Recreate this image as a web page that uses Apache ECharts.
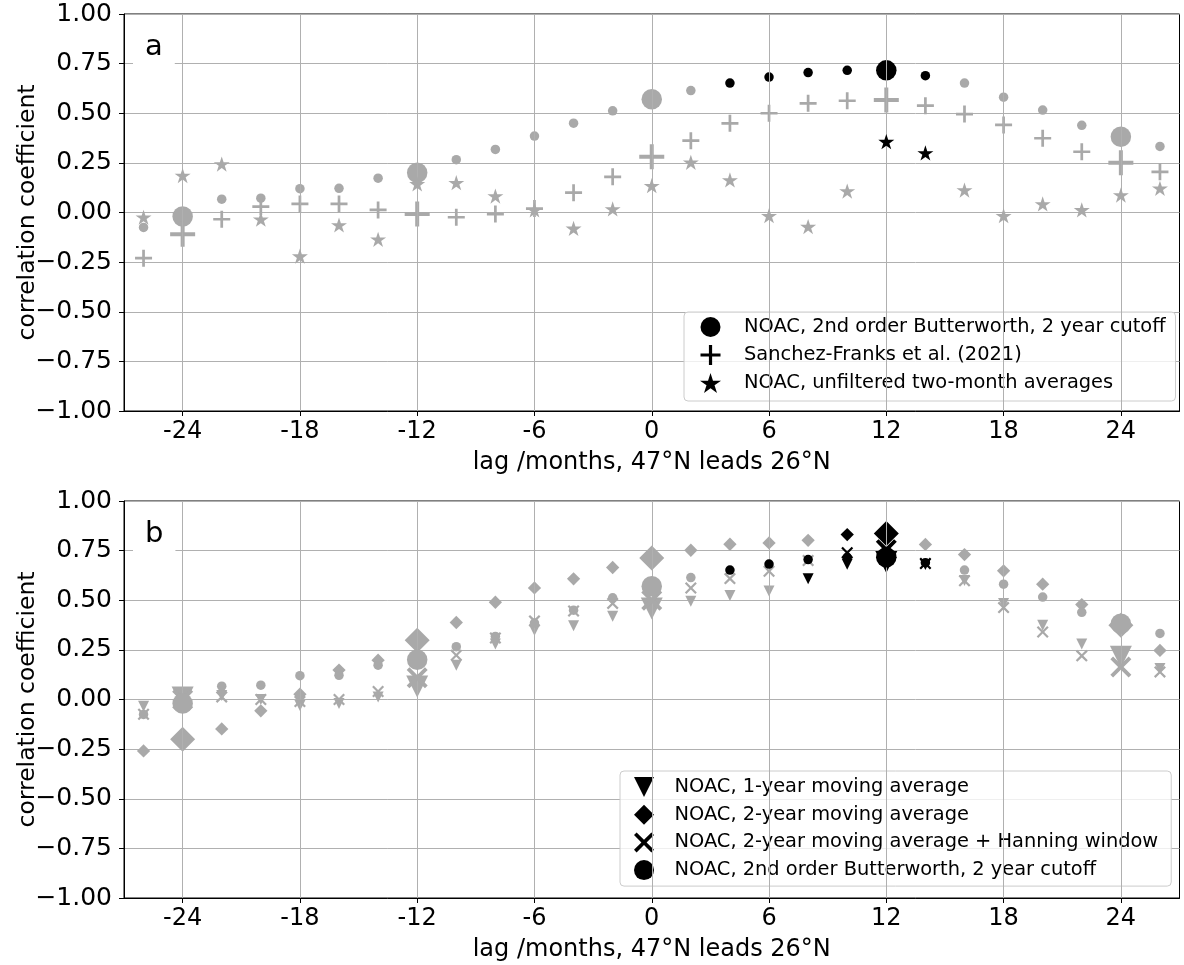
<!DOCTYPE html>
<html><head><meta charset="utf-8">
<script src="https://cdn.jsdelivr.net/npm/echarts@6/dist/echarts.min.js"></script>
<style>html,body{margin:0;padding:0;background:#fff}#chart{width:1184px;height:965px}</style>
</head><body><div id="chart"></div>
<script>
// ---------------- data ----------------
const lags = [-26,-24,-22,-20,-18,-16,-14,-12,-10,-8,-6,-4,-2,0,2,4,6,8,10,12,14,16,18,20,22,24,26];
const xTickValues = [-24,-18,-12,-6,0,6,12,18,24];
const bigLags = [-24,-12,0,12,24];

// panel a
const butterworth = [-0.075,-0.02,0.067,0.072,0.12,0.122,0.173,0.20,0.266,0.318,0.385,0.45,0.512,0.570,0.614,0.652,0.682,0.705,0.716,0.716,0.689,0.652,0.581,0.516,0.439,0.382,0.333];
const sanchezFranks = [-0.23,-0.11,-0.034,0.03,0.043,0.043,0.013,-0.008,-0.024,-0.008,0.02,0.10,0.18,0.281,0.362,0.449,0.50,0.55,0.563,0.567,0.538,0.496,0.441,0.374,0.306,0.251,0.205];
const unfilteredTwoMonth = [-0.024,0.186,0.244,-0.034,-0.22,-0.063,-0.135,0.144,0.15,0.083,0.013,-0.08,0.018,0.135,0.253,0.164,-0.016,-0.071,0.108,0.357,0.30,0.113,-0.016,0.043,0.013,0.088,0.122];

// panel b
const movingAvg1yr = [-0.034,0.01,0.02,0.0,-0.03,-0.02,0.013,0.065,0.173,0.279,0.349,0.371,0.42,0.458,0.495,0.524,0.547,0.608,0.681,0.693,0.68,0.60,0.484,0.374,0.279,0.215,0.156];
const movingAvg2yr = [-0.259,-0.20,-0.148,-0.057,0.027,0.148,0.198,0.299,0.388,0.49,0.562,0.608,0.665,0.713,0.752,0.782,0.789,0.802,0.831,0.836,0.781,0.73,0.648,0.581,0.478,0.374,0.247];
const movingAvg2yrHanning = [-0.074,0.0,0.013,0.0,-0.01,0.0,0.04,0.11,0.223,0.31,0.396,0.446,0.484,0.50,0.562,0.609,0.646,0.70,0.739,0.755,0.685,0.598,0.463,0.34,0.22,0.164,0.139];

// lags drawn in black (highlighted)
const blackButterworth = [4,6,8,10,12,14];
const blackSanchez = [];
const blackUnfiltered = [12,14];
const blackMA1 = [8,10,12,14];
const blackMA2 = [10,12];
const blackMA2H = [10,12,14];

// ---------------- styling ----------------
const FONT = 'DejaVu Sans';
const GRAY = '#a9a9a9';
const P_STAR = 'path://M100,0 L122.45,69.1 L195.11,69.1 L136.33,111.8 L158.78,180.9 L100,138.2 L41.22,180.9 L63.67,111.8 L4.89,69.1 L77.55,69.1 Z';
const P_PLUS = 'path://M42,0 H58 V42 H100 V58 H58 V100 H42 V58 H0 V42 H42 Z';
const P_X = 'path://M13,0 L50,37 L87,0 L100,13 L63,50 L100,87 L87,100 L50,63 L13,100 L0,87 L37,50 L0,13 Z';
const P_TRI = 'path://M0,0 L100,0 L50,100 Z';
const P_DIA = 'path://M50,0 L100,50 L50,100 L0,50 Z';

const NAME_BW = 'NOAC, 2nd order Butterworth, 2 year cutoff';
const NAME_SF = 'Sanchez-Franks et al. (2021)';
const NAME_UF = 'NOAC, unfiltered two-month averages';
const NAME_MA1 = 'NOAC, 1-year moving average';
const NAME_MA2 = 'NOAC, 2-year moving average';
const NAME_MA2H = 'NOAC, 2-year moving average + Hanning window';

function mkSeries(name, vals, g, symbol, small, big, blackSet, z) {
  return {
    type: 'scatter', name: name, xAxisIndex: g, yAxisIndex: g, z: z,
    data: lags.map((l, i) => [l, vals[i]]),
    symbol: symbol, symbolKeepAspect: true,
    symbolSize: function (v) { return bigLags.indexOf(v[0]) >= 0 ? big : small; },
    itemStyle: { opacity: 1, color: function (p) { return blackSet.indexOf(p.value[0]) >= 0 ? '#000' : GRAY; } },
    emphasis: { disabled: true }, silent: true, animation: false
  };
}
function gridLines(g) {
  return {
    type: 'scatter', xAxisIndex: g, yAxisIndex: g, data: [], z: 1, silent: true, animation: false,
    markLine: {
      silent: true, symbol: ['none', 'none'], label: { show: false }, animation: false,
      lineStyle: { color: '#b0b0b0', width: 1, type: 'solid' }, emphasis: { disabled: true },
      data: xTickValues.map(v => ({ xAxis: v }))
    }
  };
}
function xAxisCfg(g) {
  return {
    gridIndex: g, type: 'value', min: -27, max: 27, interval: 3,
    axisLine: { show: true, onZero: false, lineStyle: { color: '#000', width: 1 } },
    axisTick: { show: true, inside: false, length: 5, customValues: xTickValues, lineStyle: { color: '#000' } },
    axisLabel: { customValues: xTickValues, fontSize: 24, color: '#000', fontFamily: FONT, margin: 9,
      formatter: v => String(v) },
    splitLine: { show: false },
    name: 'lag /months, 47°N leads 26°N', nameLocation: 'middle', nameGap: 40, nameMoveOverlap: false,
    nameTextStyle: { fontSize: 24, color: '#000', fontFamily: FONT }
  };
}
function yAxisCfg(g) {
  return {
    gridIndex: g, type: 'value', min: -1, max: 1, interval: 0.25,
    axisLine: { show: true, onZero: false, lineStyle: { color: '#000', width: 1 } },
    axisTick: { show: true, inside: false, length: 5, lineStyle: { color: '#000' } },
    axisLabel: { fontSize: 25, color: '#000', fontFamily: FONT, margin: 12,
      formatter: v => (v < 0 ? '\u2212' : '') + Math.abs(v).toFixed(2) },
    splitLine: { show: true, lineStyle: { color: '#b0b0b0', width: 1 } },
    name: 'correlation coefficient', nameLocation: 'middle', nameGap: 84, nameMoveOverlap: false,
    nameTextStyle: { fontSize: 23.5, color: '#000', fontFamily: FONT }
  };
}
function legendCfg(left, top, padding, itemWidth, gap, items) {
  return {
    orient: 'vertical', left: left, top: top, padding: padding,
    itemWidth: itemWidth, itemHeight: 20, itemGap: gap, symbolRotate: 0, selectedMode: false,
    backgroundColor: 'rgba(255,255,255,0.8)', borderColor: '#cccccc', borderWidth: 1, borderRadius: 4,
    textStyle: { fontSize: 19.4, color: '#000', fontFamily: FONT, lineHeight: 20 },
    data: items.map(it => ({ name: it[0], icon: it[1], itemStyle: { color: '#000', borderWidth: 0 } }))
  };
}
const titleStyle = { fontSize: 29, fontWeight: 'normal', color: '#000', fontFamily: FONT, lineHeight: 29 };
const gridBase = { left: 124, right: 4.5, height: 397, show: true, borderColor: '#000', borderWidth: 1,
  backgroundColor: 'transparent', containLabel: false, outerBoundsMode: 'none' };

const option = {
  animation: false,
  backgroundColor: '#fff',
  textStyle: { fontFamily: FONT },
  title: [
    { text: 'a', left: 133, top: 29, padding: [4, 12, 4, 12], backgroundColor: '#fff', textStyle: titleStyle },
    { text: 'b', left: 133, top: 516, padding: [4, 12, 4, 12], backgroundColor: '#fff', textStyle: titleStyle }
  ],
  grid: [
    Object.assign({}, gridBase, { top: 14 }),
    Object.assign({}, gridBase, { top: 501 })
  ],
  xAxis: [xAxisCfg(0), xAxisCfg(1)],
  yAxis: [yAxisCfg(0), yAxisCfg(1)],
  legend: [
    legendCfg(684, 312, [5, 10, 8, 16], 57, 8, [[NAME_BW, 'circle'], [NAME_SF, P_PLUS], [NAME_UF, P_STAR]]),
    legendCfg(620, 771, [6, 13, 6, 14], 51, 7.7, [[NAME_MA1, P_TRI], [NAME_MA2, P_DIA], [NAME_MA2H, P_X], [NAME_BW, 'circle']])
  ],
  series: [
    gridLines(0), gridLines(1),
    mkSeries(NAME_BW, butterworth, 0, 'circle', 9.5, 20.5, blackButterworth, 3),
    mkSeries(NAME_SF, sanchezFranks, 0, P_PLUS, 17, 25, blackSanchez, 4),
    mkSeries(NAME_UF, unfilteredTwoMonth, 0, P_STAR, 16, 16, blackUnfiltered, 5),
    mkSeries(NAME_MA1, movingAvg1yr, 1, P_TRI, 11, 22, blackMA1, 3),
    mkSeries(NAME_MA2, movingAvg2yr, 1, 'diamond', 13.3, 25, blackMA2, 4),
    mkSeries(NAME_MA2H, movingAvg2yrHanning, 1, P_X, 12, 21, blackMA2H, 5),
    mkSeries(NAME_BW, butterworth, 1, 'circle', 9.5, 20.5, blackButterworth, 6)
  ]
};
const chart = echarts.init(document.getElementById('chart'), null, { renderer: 'canvas' });
chart.setOption(option);
</script>
</body></html>
